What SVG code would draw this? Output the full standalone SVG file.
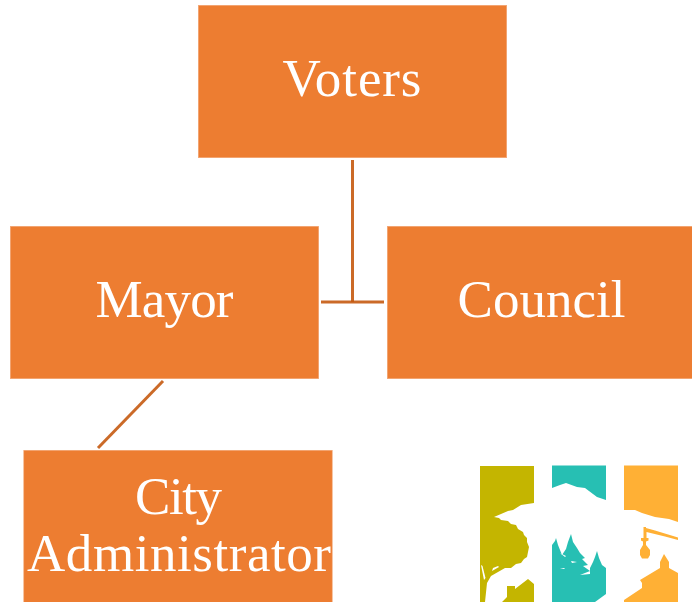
<svg xmlns="http://www.w3.org/2000/svg" width="692" height="602" viewBox="0 0 692 602">
<style>
.box{fill:#ed7d31;stroke:#f2a573;stroke-width:.6}
.lbl{fill:#fff;font-family:"Liberation Serif",serif;font-size:53px;text-anchor:middle}
.c{stroke:#c55a11;stroke-width:3;fill:none;opacity:.9}
</style>
<rect width="692" height="602" fill="#fff"/>
<g id="connectors">
<path class="c" d="M352.500 160V302"/>
<path class="c" d="M321 302H384"/>
<path class="c" d="M163 381L98 448"/>
</g>
<g id="voters"><rect class="box" x="198.300" y="5.300" width="308.400" height="152.400"/><text class="lbl" x="352" y="96" textLength="139">Voters</text></g>
<g id="mayor"><rect class="box" x="10.300" y="226.300" width="308.400" height="152.400"/><text class="lbl" x="164.500" y="317" textLength="138">Mayor</text></g>
<g id="council"><rect class="box" x="387.300" y="226.300" width="305" height="152.400"/><text class="lbl" x="541.500" y="317" textLength="168">Council</text></g>
<g id="city-administrator"><rect class="box" x="23.800" y="450.300" width="308.400" height="152"/><text class="lbl" x="178.500" y="514" textLength="87">City</text><text class="lbl" x="179" y="571" textLength="304">Administrator</text></g>
<g id="logo">
<path fill="#c4b500" d="M480 466H534V503L521 505L513 510L508 511L494 517L499 518L501 520L508 521L511 524L516 525L518 529L523 532L524 535L527 538L527 542L529 547L528 552L527 557L524 559L521 563L516 564L511 568L505 568L498 572L491 576L487 583L485 602H480Z"/>
<path fill="#fff" d="M481 565L482.500 566L485.500 578L484 580ZM493 568L498 566L499 567L492 571Z"/>
<path fill="#c4b500" d="M502 602L507 597V586H515V589L528 579L534 584V602Z"/>
<path fill="#27bfb3" d="M552 465.500H606V500L597 497L585 488L577 487L566 483L560 485L552 488ZM552 602V545L555 541L556 538L558 545L560 550L562 555L566 549L568 542L571 534L573 542L577 548L580 553L585 558L582 559L588 565L583 566L590 571L580 575L590 574L590 568L593 562L595 557L597 551L599 558L602 565L606 568V594L595 602Z"/>
<path fill="#fff" d="M560 553L566 556L565 557ZM560 568L565 568L564 569ZM571 561L577 562L572 563Z"/>
<path fill="#ffb035" d="M624 465.500H678V522L669 519L655 517L642 513L635 510L624 510ZM624 602V600L642 588L642 583L640 580L660 568V562L664 554L669 562V568L678 573V602Z"/>
<path fill="#ffb035" d="M643.500 527H646L646 528L655 530.500L678 537.500V540L665 536.500L646.500 532V538H648.500V540.500L646 541.500V545L650 550V555L648 558.500H642L640 555V550L643 545V541.500L641 540.500V538H643.500Z"/>
</g>
</svg>
